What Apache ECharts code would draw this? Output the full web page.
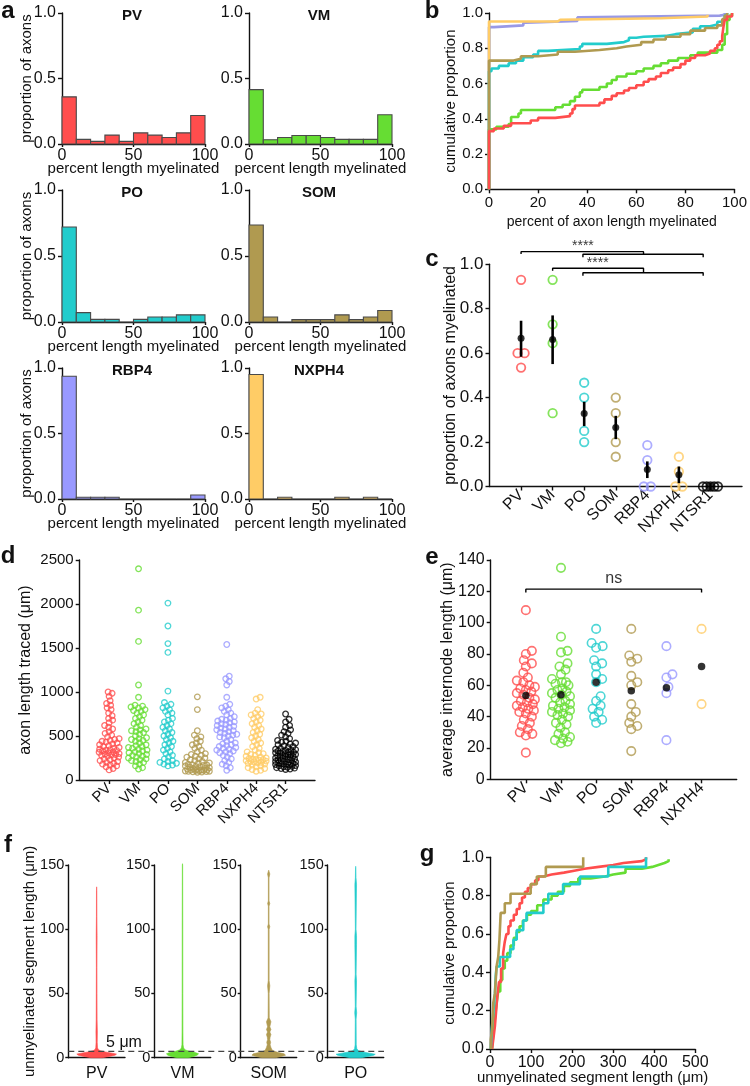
<!DOCTYPE html>
<html><head><meta charset="utf-8">
<script src="https://cdn.jsdelivr.net/npm/echarts@6/dist/echarts.min.js"></script>
<style>html,body{margin:0;padding:0;background:#fff}#chart{width:750px;height:1086px}</style>
</head><body><div id="chart"></div>
<script>
// ================= DATA =================
const groups = ['PV','VM','PO','SOM','RBP4','NXPH4','NTSR1'];
const colors = {PV:'#FF4D4D', VM:'#66DD33', PO:'#22CCCC', SOM:'#B09A50', RBP4:'#9999FF', NXPH4:'#FFCC66', NTSR1:'#000000'};

// a: histograms, proportion of axons per 10% bin of percent length myelinated
const histBins  = [0,10,20,30,40,50,60,70,80,90,100];
const histPV    = [0.36, 0.035, 0.02, 0.068, 0.02, 0.085, 0.068, 0.05, 0.085, 0.218];
const histVM    = [0.415, 0.033, 0.05, 0.065, 0.065, 0.05, 0.035, 0.035, 0.035, 0.223];
const histPO    = [0.72, 0.071, 0.02, 0.02, 0, 0.02, 0.038, 0.038, 0.054, 0.054];
const histSOM   = [0.735, 0.038, 0, 0.018, 0.018, 0.018, 0.054, 0.018, 0.038, 0.087];
const histRBP4  = [0.937, 0.013, 0.013, 0.013, 0, 0, 0, 0, 0, 0.03];
const histNXPH4 = [0.95, 0, 0.013, 0, 0, 0, 0.013, 0, 0.013, 0];

// b: cumulative proportion vs percent of axon length myelinated [x, y]
const cdfPV = [[0,0],[0,0.33],[2,0.345],[6,0.36],[9,0.375],[17,0.39],[20,0.405],[27,0.415],[33,0.43],[34,0.455],[35,0.475],[45,0.49],[47,0.51],[50,0.53],[52,0.545],[55,0.56],[57,0.575],[60,0.59],[63,0.61],[65,0.625],[68,0.64],[70,0.66],[73,0.675],[75,0.69],[78,0.71],[80,0.73],[82,0.745],[84,0.76],[88,0.77],[90,0.785],[92,0.8],[93,0.82],[94,0.84],[95,0.87],[95.5,0.92],[96,0.96],[97,0.98],[99,1.0]];
const cdfVM = [[0,0],[0,0.34],[3,0.355],[8,0.37],[9,0.41],[12,0.43],[13,0.45],[27,0.465],[30,0.48],[33,0.5],[35,0.525],[37,0.55],[38,0.565],[45,0.58],[48,0.6],[50,0.62],[52,0.64],[56,0.655],[60,0.67],[63,0.685],[67,0.7],[70,0.715],[73,0.73],[77,0.745],[82,0.76],[85,0.775],[93,0.79],[95,0.82],[96,0.88],[97,0.96],[98,0.985],[99,1.0]];
const cdfPO = [[0,0],[0,0.67],[1,0.685],[4,0.7],[8,0.715],[11,0.73],[14,0.75],[18,0.765],[20,0.785],[24,0.795],[37,0.81],[38,0.825],[48,0.835],[55,0.845],[57,0.86],[60,0.865],[63,0.87],[72,0.88],[76,0.89],[83,0.91],[86,0.925],[90,0.935],[93,0.95],[95,0.96],[96,0.985],[97,1.0]];
const cdfSOM = [[0,0],[0,0.73],[10,0.74],[13,0.755],[20,0.765],[28,0.78],[35,0.79],[45,0.8],[52,0.81],[56,0.82],[62,0.835],[67,0.85],[72,0.865],[78,0.88],[82,0.9],[88,0.915],[93,0.93],[95,0.965],[96,0.985],[97,1.0]];
const cdfRBP4 = [[0,0],[0,0.92],[2,0.93],[14,0.945],[15,0.955],[36,0.975],[37,0.985],[94,0.99],[96,1.0]];
const cdfNXPH4 = [[0,0],[0,0.952],[28,0.962],[29,0.97],[70,0.98],[89,0.99]];

// c: proportion of axons myelinated per animal, with mean and error bars
const cPV = [0.93, 0.60, 0.60, 0.535];
const cVM = [0.93, 0.73, 0.645, 0.33];
const cPO = [0.467, 0.40, 0.25, 0.20];
const cSOM = [0.40, 0.33, 0.20, 0.134];
const cRBP4 = [0.186, 0.119, 0, 0];
const cNXPH4 = [0.134, 0.067, 0, 0];
const cNTSR1 = [0, 0, 0, 0, 0];
const cMean = [0.667, 0.662, 0.329, 0.266, 0.076, 0.053, 0];
const cErrLo = [0.584, 0.551, 0.272, 0.213, 0.038, 0.015, 0];
const cErrHi = [0.746, 0.770, 0.381, 0.318, 0.113, 0.090, 0];

// d: axon length traced (um)
const dPV = [1000,985,950,900,870,850,820,800,760,730,700,680,650,620,600,580,550,530,510,490,470,460,450,440,430,420,410,400,390,380,370,360,350,345,340,335,330,320,315,310,300,295,290,285,280,270,260,250,240,230,220,210,200,190,180,170,160,150,130,115];
const dVM = [2400,1930,1575,1080,940,850,840,830,820,800,790,780,760,740,720,700,680,660,640,620,600,580,570,560,550,540,520,500,480,470,460,450,440,420,400,390,380,370,360,350,340,330,320,310,300,290,280,270,260,250,240,230,220,210,200,180,160,140,125];
const dPO = [2010,1750,1550,1450,1010,880,860,840,820,800,780,760,740,700,680,660,640,620,600,580,560,540,520,500,480,460,440,420,400,380,360,340,320,300,280,260,240,220,210,200,190,180,170,160];
const dSOM = [945,800,560,510,490,470,440,420,400,380,360,340,320,300,290,280,270,260,250,240,230,220,210,200,195,190,180,175,170,165,160,155,150,145,140,135,130,125,120,118,115,112,110,108,105,102,100,98,95,92,90,88];
const dRBP4 = [1540,1180,1150,1120,1080,940,860,840,820,800,780,760,740,720,700,690,680,670,660,650,640,630,620,610,600,590,580,570,560,550,540,530,520,510,500,490,480,460,440,420,410,400,390,380,370,360,350,340,330,320,310,300,280,260,240,220,200,180,160,140,110];
const dNXPH4 = [940,920,800,760,750,740,720,700,680,660,640,620,600,580,560,540,520,500,480,460,440,420,400,380,360,340,320,310,300,290,280,270,260,250,245,240,235,230,225,220,215,210,205,200,195,190,180,170,160,150,140,130,120,110,100];
const dNTSR1 = [750,690,660,620,600,570,550,530,510,490,470,450,440,430,420,410,400,390,380,370,360,350,345,340,335,330,325,320,315,310,305,300,295,290,285,280,275,270,265,260,255,250,245,240,235,230,225,220,215,210,205,200,195,190,185,180,175,170,165,160,155,150,145,140,135,130,125,120];

// e: average internode length (um)
const ePV = [108,82,80,76,74,72,68,65,63,62,60,59,58,57,56,55,54,52,51,50,49,48,47,46,45,44,43,42,40,38,36,34,32,30,29,28,17];
const eVM = [135,91,82,81,74,72,70,67,64,62,62,61,60,58,57,56,55,54,53,52,50,49,48,47,46,45,44,43,42,41,40,38,36,35,33,30,29,27,26,25,24,23];
const ePO = [96,87,85,84,76,74,72,67,64,62,53,50,47,45,43,40,38,36];
const eSOM = [96,79,77,75,66,62,60,48,43,40,36,34,32,18];
const eRBP4 = [85,67,65,59,55,25];
const eNXPH4 = [96,48];
const eMean = [53.5, 54, 62, 56.5, 58.5, 72];

// f: violin profiles [segment length (um), half width]
const vPV = [[0,0.2],[1,0.45],[2,0.65],[2.8,0.7],[3.5,0.55],[4.5,0.3],[5.5,0.12],[6.5,0.05],[8,0.03],[12,0.02],[20,0.025],[30,0.015],[50,0.012],[70,0.01],[95,0.015],[110,0.008],[130,0.006],[133,0]];
const vVM = [[0,0.2],[1,0.4],[2,0.52],[3,0.57],[4,0.45],[5,0.25],[6,0.1],[7.5,0.04],[10,0.02],[20,0.015],[50,0.012],[100,0.01],[150,0.006],[151,0]];
const vSOM = [[0,0.25],[1,0.45],[2,0.6],[3,0.55],[4,0.35],[5,0.2],[6,0.12],[8,0.08],[10,0.05],[12,0.07],[14,0.04],[16,0.05],[18,0.08],[20,0.04],[22,0.08],[24,0.04],[28,0.08],[31,0.02],[50,0.015],[56,0.04],[60,0.015],[100,0.015],[102,0.04],[104,0.012],[118,0.012],[120,0.04],[122,0.012],[140,0.012],[143,0.04],[146,0]];
const vPO = [[0,0.2],[1,0.45],[2,0.65],[2.7,0.7],[3.5,0.5],[4.5,0.25],[5.5,0.1],[7,0.04],[10,0.02],[30,0.015],[35,0.035],[40,0.015],[60,0.03],[65,0.015],[88,0.03],[95,0.03],[100,0.012],[135,0.03],[140,0.012],[148,0.006],[149,0]];
const fThreshold = 5;

// g: cumulative proportion vs unmyelinated segment length (um)
const gPV = [[5,0],[8,0.05],[12,0.12],[15,0.2],[18,0.28],[22,0.35],[27,0.42],[32,0.5],[36,0.56],[40,0.6],[45,0.64],[50,0.67],[58,0.7],[65,0.73],[72,0.76],[78,0.79],[85,0.82],[92,0.84],[100,0.86],[110,0.88],[118,0.9],[130,0.91],[150,0.92],[180,0.93],[205,0.94],[230,0.95],[265,0.96],[300,0.97],[325,0.98],[370,0.99],[380,1.0]];
const gVM = [[5,0],[8,0.08],[12,0.16],[16,0.24],[20,0.3],[25,0.36],[30,0.42],[36,0.46],[42,0.5],[50,0.54],[58,0.58],[65,0.61],[72,0.64],[80,0.67],[90,0.7],[100,0.72],[115,0.75],[130,0.78],[150,0.8],[165,0.82],[180,0.85],[195,0.87],[215,0.89],[245,0.9],[280,0.91],[300,0.92],[330,0.94],[370,0.95],[395,0.96],[410,0.97],[425,0.98],[435,0.99]];
const gPO = [[2,0],[4,0.1],[8,0.19],[12,0.29],[14,0.38],[16,0.43],[24,0.48],[49,0.52],[57,0.57],[65,0.62],[81,0.67],[89,0.71],[130,0.76],[142,0.81],[178,0.86],[219,0.9],[288,0.95],[380,1.0]];
const gSOM = [[2,0],[2,0.05],[5,0.1],[8,0.24],[12,0.29],[16,0.43],[20,0.48],[23,0.57],[26,0.71],[36,0.76],[50,0.81],[99,0.86],[114,0.9],[136,0.95],[227,1.0]];

// ================= BUILD =================
const FONT = '"Liberation Sans", Arial, Helvetica, sans-serif';
const INK = '#111';
function merge(a, b) {
  const o = Object.assign({}, a);
  for (const k in b) {
    if (b[k] && typeof b[k] === 'object' && !Array.isArray(b[k]) && typeof b[k] !== 'function' &&
        a[k] && typeof a[k] === 'object' && !Array.isArray(a[k])) o[k] = merge(a[k], b[k]);
    else o[k] = b[k];
  }
  return o;
}
function baseAxis(fs) {
  return {
    axisLine: {show: true, onZero: false, lineStyle: {color: INK, width: 1.4}},
    axisTick: {show: true, length: 4, lineStyle: {color: INK, width: 1.4}},
    axisLabel: {color: INK, fontSize: fs, fontFamily: FONT, margin: 6},
    splitLine: {show: false},
    nameLocation: 'middle',
    nameMoveOverlap: false,
    nameTextStyle: {color: INK, fontSize: fs, fontFamily: FONT}
  };
}
const grids = [], xAxes = [], yAxes = [], series = [], graphics = [];
function addGrid(g, xa, ya) {
  grids.push(Object.assign({containLabel: false}, g));
  const i = grids.length - 1;
  xAxes.push(Object.assign({gridIndex: i}, xa));
  yAxes.push(Object.assign({gridIndex: i}, ya));
  return i;
}
function txt(s, x, y, font, extra) {
  graphics.push({type: 'text', x: x, y: y, z: 100,
    style: Object.assign({text: s, font: font, fill: INK, align: 'center', verticalAlign: 'middle'}, extra || {})});
}
const f1 = v => v.toFixed(1);
const plain = v => String(v);
const transparent = 'rgba(0,0,0,0)';

// ---- panel a
const histSet = [
  ['PV', histPV, 62, 13, 131], ['VM', histVM, 249, 13, 131],
  ['PO', histPO, 62, 190, 132], ['SOM', histSOM, 249, 190, 132],
  ['RBP4', histRBP4, 62, 368, 131], ['NXPH4', histNXPH4, 249, 368, 131]
];
histSet.forEach(([name, vals, L, T, H], k) => {
  const i = addGrid({left: L, top: T, width: 143, height: H},
    merge(baseAxis(16), {type: 'value', min: 0, max: 100, interval: 50, name: 'percent length myelinated', nameGap: 17,
      nameTextStyle: {fontSize: 15}, axisLabel: {margin: 4}, axisTick: {length: 3}}),
    merge(baseAxis(16), {type: 'value', min: 0, max: 1, interval: 0.5, name: k % 2 === 0 ? 'proportion of axons' : '',
      nameGap: 27.5, nameTextStyle: {fontSize: 15}, axisLabel: {formatter: f1}}));
  const color = colors[name];
  series.push({
    type: 'custom', xAxisIndex: i, yAxisIndex: i,
    data: vals.map((v, j) => [histBins[j], histBins[j + 1], v]),
    encode: {x: [0, 1], y: 2},
    renderItem: (params, api) => {
      const p0 = api.coord([api.value(0), api.value(2)]);
      const p1 = api.coord([api.value(1), 0]);
      return {type: 'rect', shape: {x: p0[0], y: p0[1], width: p1[0] - p0[0], height: p1[1] - p0[1]},
        style: {fill: color, stroke: '#4a4a4a', lineWidth: 1.1}};
    }
  });
  txt(name, L + 70, T + 3, 'bold 15px ' + FONT);
});

// ---- panel b
const bi = addGrid({left: 489, top: 13, width: 249, height: 176.3},
  merge(baseAxis(15), {type: 'value', min: 0, max: 100, interval: 20, name: 'percent of axon length myelinated', nameGap: 26,
    nameTextStyle: {fontSize: 14}}),
  merge(baseAxis(15), {type: 'value', min: 0, max: 1, interval: 0.2, name: 'cumulative proportion', nameGap: 31,
    axisLabel: {formatter: f1}}));
[['RBP4', cdfRBP4], ['NXPH4', cdfNXPH4], ['VM', cdfVM], ['PO', cdfPO], ['SOM', cdfSOM], ['PV', cdfPV]].forEach(([n, d]) => {
  series.push({type: 'line', step: 'end', xAxisIndex: bi, yAxisIndex: bi, data: d, symbol: 'none', clip: false,
    lineStyle: {color: n === 'RBP4' ? '#9999E6' : colors[n], width: 2.6}});
});

// ---- helpers for dot plots
function spreadDup(values, center, pxX) {
  const out = [];
  const counts = {};
  values.forEach(v => counts[v] = (counts[v] || 0) + 1);
  const seen = {};
  values.forEach(v => {
    const n = counts[v];
    const idx = seen[v] || 0; seen[v] = idx + 1;
    const step = n > 2 ? 3.75 : 7;
    out.push([center + (idx - (n - 1) / 2) * step / pxX, v]);
  });
  return out;
}
// bounded beeswarm layout: offsets in pixels, kept within +-maxHalf
function swarm(values, center, pxX, pxY, dist, maxHalf) {
  const sorted = values.slice().sort((a, b) => a - b);
  const placed = [], out = [];
  for (const v of sorted) {
    const y = v * pxY;
    let best = 0, bestScore = -1;
    for (let k = 0; k < 2000; k++) {
      const cand = k === 0 ? 0 : ((k % 2) ? 1 : -1) * Math.ceil(k / 2) * 0.5;
      if (Math.abs(cand) > maxHalf) break;
      let minD = Infinity;
      for (const p of placed) {
        const dy = p[1] - y;
        if (Math.abs(dy) < dist) {
          const dx = p[0] - cand;
          const d2 = Math.sqrt(dx * dx + dy * dy);
          if (d2 < minD) minD = d2;
        }
      }
      if (minD >= dist) { best = cand; bestScore = minD; break; }
      if (minD > bestScore + 0.01) { best = cand; bestScore = minD; }
    }
    placed.push([best, y]);
    out.push([center + best / pxX, v]);
  }
  return out;
}
function catAxis(fs, n, max) {
  const vals = []; for (let i = 1; i <= n; i++) vals.push(i);
  return merge(baseAxis(fs), {type: 'value', min: 0, max: max, interval: 1,
    axisTick: {customValues: vals},
    axisLabel: {customValues: vals, rotate: 45, margin: 6, formatter: v => (v >= 1 && v <= n) ? groups[v - 1] : ''}});
}

// ---- panel c
const cW = 252.5, cH = 222.2;
const ci = addGrid({left: 489.5, top: 264.3, width: cW, height: cH},
  catAxis(16, 7, 8),
  merge(baseAxis(17), {type: 'value', min: 0, max: 1, interval: 0.2, name: 'proportion of axons myelinated', nameGap: 31,
    nameTextStyle: {fontSize: 16}, axisLabel: {formatter: f1}}));
[cPV, cVM, cPO, cSOM, cRBP4, cNXPH4, cNTSR1].forEach((vals, k) => {
  series.push({type: 'scatter', xAxisIndex: ci, yAxisIndex: ci, clip: false, symbol: 'circle', symbolSize: 8.5,
    data: spreadDup(vals, k + 1, cW / 8),
    itemStyle: {color: transparent, borderColor: colors[groups[k]], borderWidth: 1.8}});
});
series.push({type: 'custom', xAxisIndex: ci, yAxisIndex: ci, z: 5,
  data: cMean.map((m, k) => [k + 1, cErrLo[k], cErrHi[k]]),
  renderItem: (params, api) => {
    const a = api.coord([api.value(0), api.value(1)]);
    const b = api.coord([api.value(0), api.value(2)]);
    return {type: 'line', shape: {x1: a[0], y1: a[1], x2: b[0], y2: b[1]}, style: {stroke: '#000', lineWidth: 2.6}};
  }});
series.push({type: 'scatter', xAxisIndex: ci, yAxisIndex: ci, z: 6, symbol: 'circle', symbolSize: 7,
  data: cMean.map((m, k) => [k + 1, m]), itemStyle: {color: '#000'}});
const bracketLines = [
  [[1, 1.046], [1, 1.057], [4.88, 1.057], [4.88, 1.045]],
  [[2.96, 1.032], [2.96, 1.045], [6.77, 1.045], [6.77, 1.032]],
  [[2, 0.971], [2, 0.982], [4.88, 0.982], [4.88, 0.962]],
  [[2.96, 0.949], [2.96, 0.962], [6.77, 0.962], [6.77, 0.949]]
];
bracketLines.forEach(d => series.push({type: 'line', xAxisIndex: ci, yAxisIndex: ci, data: d, symbol: 'none', clip: false,
  lineStyle: {color: '#000', width: 1.4}}));
series.push({type: 'scatter', xAxisIndex: ci, yAxisIndex: ci, clip: false, symbolSize: 0,
  data: [[2.96, 1.057], [3.43, 0.982]],
  label: {show: true, position: 'top', distance: -2, formatter: '****', fontSize: 14, fontFamily: FONT, color: '#000'}});

// ---- panel d
const dW = 235.3, dH = 220;
const di = addGrid({left: 79.7, top: 560, width: dW, height: dH},
  catAxis(15, 7, 8),
  merge(baseAxis(15), {type: 'value', min: 0, max: 2500, interval: 500, name: 'axon length traced (\u03bcm)', nameGap: 46,
    nameTextStyle: {fontSize: 16}, axisLabel: {formatter: plain}}));
[dPV, dVM, dPO, dSOM, dRBP4, dNXPH4, dNTSR1].forEach((vals, k) => {
  series.push({type: 'scatter', xAxisIndex: di, yAxisIndex: di, symbol: 'circle', symbolSize: 5.6,
    data: swarm(vals, k + 1, dW / 8, dH / 2500, 4.2, k === 3 ? 12 : 10),
    itemStyle: {color: transparent, borderColor: colors[groups[k]], borderWidth: 1.3}});
});

// ---- panel e
const eW = 246, eH = 219.3;
const ei = addGrid({left: 490.7, top: 560, width: eW, height: eH},
  catAxis(16, 6, 7),
  merge(baseAxis(16), {type: 'value', min: 0, max: 140, interval: 20, name: 'average internode length (\u03bcm)', nameGap: 35,
    nameTextStyle: {fontSize: 16}}));
[ePV, eVM, ePO, eSOM, eRBP4, eNXPH4].forEach((vals, k) => {
  series.push({type: 'scatter', xAxisIndex: ei, yAxisIndex: ei, symbol: 'circle', symbolSize: 8.5,
    data: swarm(vals, k + 1, eW / 7, eH / 140, 6.5, 9),
    itemStyle: {color: transparent, borderColor: colors[groups[k]], borderWidth: 1.6}});
});
series.push({type: 'scatter', xAxisIndex: ei, yAxisIndex: ei, z: 6, symbol: 'circle', symbolSize: 7.5,
  data: eMean.map((m, k) => [k + 1, m]), itemStyle: {color: '#000'}});
series.push({type: 'line', xAxisIndex: ei, yAxisIndex: ei, symbol: 'none', data: [[1, 119.3], [1, 121.4], [6, 121.4], [6, 119.3]],
  lineStyle: {color: '#000', width: 1.4}});
series.push({type: 'scatter', xAxisIndex: ei, yAxisIndex: ei, symbolSize: 0, data: [[3.5, 121.4]],
  label: {show: true, position: 'top', distance: 3, formatter: 'ns', fontSize: 16, fontFamily: FONT, color: '#000'}});

// ---- panel f
const fSet = [['PV', vPV, 68.3, 56.7], ['VM', vVM, 154.3, 56.4], ['SOM', vSOM, 240.7, 56], ['PO', vPO, 327.7, 56]];
fSet.forEach(([name, prof, L, W], k) => {
  const i = addGrid({left: L, top: 865, width: W, height: 192.7},
    merge(baseAxis(16), {type: 'value', min: 0, max: 2, interval: 1, axisTick: {show: false},
      axisLabel: {margin: 8, formatter: v => v === 1 ? name : ''}}),
    merge(baseAxis(14.5), {type: 'value', min: 0, max: 150, interval: 50, axisTick: {length: 3}, axisLabel: {margin: 4},
      name: k === 0 ? 'unmyelinated segment length (\u03bcm)' : '', nameGap: 31, nameTextStyle: {fontSize: 15}}));
  const color = colors[name];
  series.push({type: 'custom', xAxisIndex: i, yAxisIndex: i, data: [[1, 0]],
    renderItem: (params, api) => {
      const pts = [];
      prof.forEach(p => pts.push(api.coord([1 + p[1], p[0]])));
      for (let j = prof.length - 1; j >= 0; j--) pts.push(api.coord([1 - prof[j][1], prof[j][0]]));
      return {type: 'polygon', shape: {points: pts}, style: {fill: color, stroke: color, lineWidth: 0.6}};
    }});
});
const fi = addGrid({left: 68.3, top: 865, width: 315.7, height: 192.7},
  {type: 'value', min: 0, max: 1, show: false},
  {type: 'value', min: 0, max: 150, show: false});
series.push({type: 'line', xAxisIndex: fi, yAxisIndex: fi, symbol: 'none', z: 10,
  data: [[0, fThreshold], [1, fThreshold]], lineStyle: {color: '#444', width: 1.2, type: [6, 4]}});
txt('5 \u03bcm', 124, 1043, '16px ' + FONT);

// ---- panel g
const gi = addGrid({left: 490, top: 857.3, width: 205.3, height: 192},
  merge(baseAxis(16), {type: 'value', min: 0, max: 500, interval: 100, name: 'unmyelinated segment length (\u03bcm)', nameGap: 21,
    nameTextStyle: {fontSize: 15}}),
  merge(baseAxis(16), {type: 'value', min: 0, max: 1, interval: 0.2, name: 'cumulative proportion', nameGap: 33,
    nameTextStyle: {fontSize: 15}, axisLabel: {formatter: f1}}));
[['VM', gVM], ['PV', gPV], ['PO', gPO], ['SOM', gSOM]].forEach(([n, d]) => {
  series.push({type: 'line', step: 'end', xAxisIndex: gi, yAxisIndex: gi, data: d, symbol: 'none', clip: false,
    lineStyle: {color: colors[n], width: 2.6}});
});

// ---- panel letters
const LF = 'bold 24px ' + FONT;
txt('a', 8, 11, LF); txt('b', 432, 11, LF); txt('c', 432, 259, LF); txt('d', 8, 556, LF);
txt('e', 432, 557, LF); txt('f', 8, 845, LF); txt('g', 427, 854, LF);

const chart = echarts.init(document.getElementById('chart'), null, {renderer: 'canvas'});
chart.setOption({
  animation: false,
  backgroundColor: '#fff',
  textStyle: {fontFamily: FONT},
  grid: grids, xAxis: xAxes, yAxis: yAxes, series: series, graphic: graphics
});
</script></body></html>
